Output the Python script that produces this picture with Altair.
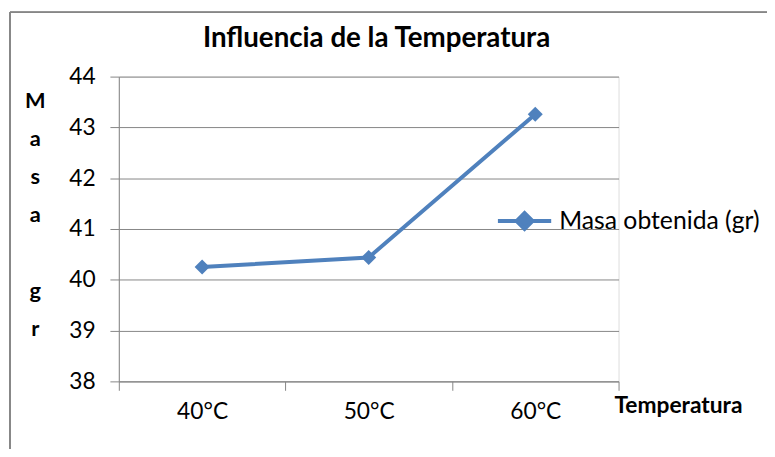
import altair as alt
import pandas as pd

temps = ["40°C", "50°C", "60°C"]
masa = [40.25, 40.44, 43.26]
serie = ["Masa obtenida (gr)"] * 3
y_ticks = [38, 39, 40, 41, 42, 43, 44]

df = pd.DataFrame({"temp": temps, "masa": masa, "serie": serie})

FONT = "Lato"
BLUE = "#4F81BD"
GRAY = "#868686"

x_enc = alt.X("temp:N", sort=temps,
              scale=alt.Scale(paddingInner=0, paddingOuter=0),
              axis=alt.Axis(title="Temperatura", labelAngle=0, tickBand="extent",
                            grid=False, domainColor=GRAY, tickColor=GRAY, tickSize=9,
                            labelFontSize=23, labelPadding=11, labelColor="#000",
                            titleFontSize=23, titleFontWeight="bold", titleColor="#000",
                            titleX=565, titleY=24, titleAlign="center",
                            titleBaseline="middle"))
y_enc = alt.Y("masa:Q", scale=alt.Scale(domain=[38, 44], nice=False),
              axis=alt.Axis(values=y_ticks,
                            title=["M", "a", "s", "a", "\u200b", "g", "r"],
                            titleAngle=0, titleX=-85, titleY=14, titleAlign="center",
                            titleBaseline="top", titleLineHeight=38.5,
                            titleFontSize=22, titleFontWeight="bold", titleColor="#000",
                            grid=True, gridColor=GRAY, domainColor=GRAY, tickColor=GRAY,
                            tickSize=9, labelFontSize=23, labelPadding=15, labelColor="#000",
                            format="d"))

line = alt.Chart(df).mark_line(color=BLUE, strokeWidth=4).encode(x=x_enc, y=y_enc)

pts = alt.Chart(df).mark_point(shape="diamond", filled=True, size=230, opacity=1).encode(
    x=alt.X("temp:N", sort=temps),
    y="masa:Q",
    color=alt.Color("serie:N", scale=alt.Scale(range=[BLUE]),
                    legend=alt.Legend(title=None, orient="none", legendX=381, legendY=117,
                                      symbolType="M-1,0L1,0M-0.3,0L0,-0.3L0.3,0L0,0.3Z",
                                      symbolSize=2900, symbolStrokeColor=BLUE,
                                      symbolFillColor=BLUE, symbolStrokeWidth=4,
                                      labelFontSize=25, labelFont=FONT, labelColor="#000",
                                      labelOffset=6, labelLimit=400)),
)

frame_v = alt.Chart(df).mark_rule(color=GRAY, strokeWidth=1.5, clip=False).encode(
    x=alt.value(-110), y=alt.value(-65), y2=alt.value(500))
frame_h = alt.Chart(df).mark_rule(color=GRAY, strokeWidth=1.5, clip=False).encode(
    x=alt.value(-110), x2=alt.value(800), y=alt.value(-65))

chart = alt.layer(frame_v, frame_h, line, pts).properties(
    width=505, height=308,
    title=alt.TitleParams("Influencia de la Temperatura", fontSize=28, fontWeight="bold",
                          font=FONT, color="#000", anchor="middle", dx=8, dy=42, offset=0),
    autosize=alt.AutoSizeParams(type="none"),
    padding={"left": 112, "top": 67, "right": 150, "bottom": 66},
).configure_view(stroke=None).configure(font=FONT).configure_axis(
    labelFont=FONT, titleFont=FONT)

chart.save("out.html", embed_options={"renderer": "svg", "actions": False})
